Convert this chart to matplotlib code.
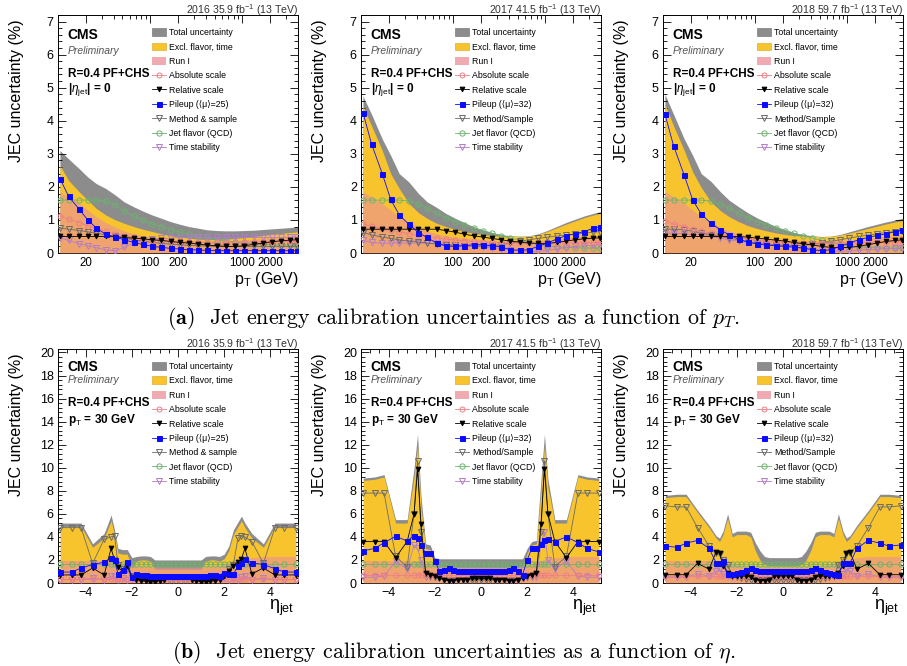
import numpy as np
import matplotlib
matplotlib.use("Agg")
import matplotlib.pyplot as plt
from matplotlib.patches import Patch
from matplotlib.lines import Line2D
from matplotlib.ticker import MultipleLocator, LogLocator, NullFormatter

plt.rcParams['font.family'] = ['Liberation Sans', 'DejaVu Sans']
plt.rcParams['mathtext.fontset'] = 'custom'
plt.rcParams['mathtext.rm'] = 'Liberation Sans'
plt.rcParams['mathtext.it'] = 'Liberation Sans:italic'
plt.rcParams['mathtext.bf'] = 'Liberation Sans:bold'

# %%
# pT dependence at |eta| = 0 (in %)
pt = [10.5, 13, 17, 21, 26, 33, 42, 52, 66, 83, 105, 132, 166, 209, 263, 331,
      417, 525, 661, 832, 1047, 1318, 1660, 2089, 2630, 3311, 3950]

runI_pt = [1.85, 1.7, 1.5, 1.3, 1.1, 0.92, 0.78, 0.67, 0.58, 0.52, 0.48, 0.45, 0.42, 0.4,
           0.38, 0.37, 0.36, 0.36, 0.37, 0.38, 0.4, 0.42, 0.45, 0.48, 0.5, 0.52, 0.54]

tot_pt_2016 = [3.1, 2.85, 2.55, 2.3, 2.1, 1.95, 1.75, 1.55, 1.4, 1.27, 1.15, 1.05, 0.95, 0.87,
               0.8, 0.75, 0.7, 0.68, 0.67, 0.67, 0.68, 0.69, 0.71, 0.73, 0.75, 0.77, 0.8]
excl_pt_2016 = [2.65, 2.2, 1.85, 1.6, 1.35, 1.15, 1.0, 0.9, 0.8, 0.72, 0.65, 0.58, 0.52, 0.48,
                0.45, 0.42, 0.41, 0.41, 0.42, 0.44, 0.47, 0.5, 0.53, 0.56, 0.59, 0.62, 0.64]
abs_pt_2016 = [1.12, 1.02, 0.92, 0.83, 0.74, 0.66, 0.58, 0.52, 0.47, 0.43, 0.4, 0.38, 0.36, 0.35,
               0.34, 0.33, 0.33, 0.33, 0.33, 0.33, 0.33, 0.33, 0.34, 0.34, 0.35, 0.35, 0.35]
rel_pt_2016 = [0.5, 0.5, 0.5, 0.5, 0.5, 0.5, 0.49, 0.47, 0.45, 0.43, 0.4, 0.38, 0.35, 0.32,
               0.3, 0.27, 0.24, 0.22, 0.2, 0.2, 0.22, 0.26, 0.3, 0.34, 0.37, 0.39, 0.4]
pu_pt_2016 = [2.25, 1.72, 1.32, 1.0, 0.76, 0.56, 0.48, 0.4, 0.32, 0.26, 0.2, 0.17, 0.14, 0.12,
              0.1, 0.09, 0.08, 0.07, 0.07, 0.07, 0.07, 0.07, 0.07, 0.07, 0.07, 0.07, 0.07]
meth_pt_2016 = [0.75, 0.72, 0.68, 0.64, 0.6, 0.55, 0.5, 0.45, 0.4, 0.36, 0.32, 0.29, 0.27, 0.25,
                0.23, 0.22, 0.21, 0.2, 0.2, 0.2, 0.2, 0.2, 0.2, 0.2, 0.2, 0.2, 0.2]
flav_pt_2016 = [1.6, 1.6, 1.6, 1.6, 1.6, 1.57, 1.45, 1.28, 1.12, 1.0, 0.88, 0.8, 0.71, 0.63,
                0.57, 0.5, 0.45, 0.4, 0.36, 0.33, 0.3, 0.28, 0.26, 0.25, 0.24, 0.23, 0.22]
time_pt_2016 = [0.46, 0.38, 0.28, 0.22, 0.16, 0.09, 0.07, 0.17, 0.3, 0.38, 0.42, 0.44, 0.45, 0.46,
                0.47, 0.47, 0.47, 0.47, 0.47, 0.47, 0.47, 0.47, 0.47, 0.47, 0.47, 0.47, 0.47]

tot_pt_2017 = [4.75, 4.2, 3.45, 2.95, 2.4, 2.15, 1.8, 1.55, 1.38, 1.2, 1.05, 0.92, 0.8, 0.7,
               0.62, 0.56, 0.52, 0.51, 0.52, 0.58, 0.68, 0.8, 0.92, 1.02, 1.12, 1.2, 1.25]
excl_pt_2017 = [4.45, 3.85, 3.1, 2.4, 1.95, 1.5, 1.22, 1.05, 0.9, 0.8, 0.72, 0.65, 0.6, 0.56,
                0.53, 0.51, 0.5, 0.5, 0.51, 0.56, 0.65, 0.76, 0.87, 0.97, 1.07, 1.15, 1.2]
abs_pt_2017 = [0.88, 0.82, 0.75, 0.7, 0.64, 0.58, 0.53, 0.49, 0.45, 0.42, 0.39, 0.37, 0.35, 0.33,
               0.32, 0.31, 0.3, 0.3, 0.3, 0.3, 0.3, 0.3, 0.31, 0.31, 0.32, 0.32, 0.33]
rel_pt_2017 = [0.72, 0.72, 0.72, 0.72, 0.72, 0.72, 0.72, 0.72, 0.72, 0.68, 0.63, 0.57, 0.52, 0.48,
               0.44, 0.4, 0.36, 0.33, 0.3, 0.29, 0.29, 0.32, 0.36, 0.4, 0.43, 0.45, 0.46]
pu_pt_2017 = [4.25, 3.3, 2.4, 1.62, 1.15, 0.87, 0.62, 0.47, 0.3, 0.21, 0.2, 0.22, 0.25, 0.25,
              0.22, 0.18, 0.1, 0.08, 0.1, 0.2, 0.3, 0.42, 0.52, 0.58, 0.65, 0.75, 0.8]
meth_pt_2017 = [0.62, 0.55, 0.48, 0.44, 0.4, 0.36, 0.33, 0.3, 0.27, 0.25, 0.23, 0.22, 0.21, 0.21,
                0.22, 0.25, 0.3, 0.35, 0.4, 0.44, 0.48, 0.51, 0.54, 0.57, 0.6, 0.63, 0.65]
flav_pt_2017 = [1.6, 1.6, 1.6, 1.6, 1.6, 1.57, 1.47, 1.35, 1.2, 1.07, 0.95, 0.85, 0.76, 0.68,
                0.6, 0.52, 0.45, 0.38, 0.32, 0.26, 0.22, 0.19, 0.17, 0.16, 0.15, 0.15, 0.15]
time_pt_2017 = [0.38, 0.32, 0.3, 0.3, 0.3, 0.3, 0.3, 0.3, 0.29, 0.27, 0.25, 0.22, 0.2, 0.18,
                0.16, 0.13, 0.1, 0.07, 0.05, 0.05, 0.08, 0.12, 0.16, 0.2, 0.22, 0.24, 0.25]

tot_pt_2018 = [4.8, 4.2, 3.45, 2.95, 2.4, 2.17, 1.85, 1.6, 1.4, 1.22, 1.06, 0.93, 0.81, 0.71,
               0.62, 0.56, 0.52, 0.5, 0.51, 0.56, 0.64, 0.72, 0.8, 0.87, 0.94, 1.0, 1.05]
excl_pt_2018 = [4.5, 3.85, 3.1, 2.45, 1.98, 1.55, 1.28, 1.1, 0.95, 0.83, 0.74, 0.67, 0.61, 0.56,
                0.53, 0.51, 0.5, 0.49, 0.5, 0.54, 0.6, 0.67, 0.74, 0.81, 0.88, 0.94, 0.98]
abs_pt_2018 = [0.98, 0.88, 0.8, 0.72, 0.66, 0.6, 0.55, 0.5, 0.46, 0.42, 0.39, 0.37, 0.35, 0.33,
               0.32, 0.31, 0.3, 0.3, 0.3, 0.3, 0.3, 0.31, 0.31, 0.32, 0.33, 0.34, 0.35]
rel_pt_2018 = [0.5, 0.5, 0.5, 0.5, 0.5, 0.5, 0.5, 0.5, 0.5, 0.48, 0.45, 0.42, 0.39, 0.36,
               0.32, 0.28, 0.24, 0.2, 0.17, 0.16, 0.17, 0.2, 0.25, 0.3, 0.35, 0.38, 0.4]
pu_pt_2018 = [4.2, 3.25, 2.35, 1.6, 1.18, 0.9, 0.7, 0.55, 0.42, 0.33, 0.27, 0.24, 0.22, 0.2,
              0.18, 0.15, 0.1, 0.07, 0.1, 0.2, 0.3, 0.4, 0.47, 0.53, 0.58, 0.65, 0.7]
meth_pt_2018 = [0.72, 0.72, 0.7, 0.66, 0.6, 0.55, 0.5, 0.45, 0.4, 0.35, 0.31, 0.28, 0.25, 0.23,
                0.22, 0.23, 0.26, 0.3, 0.35, 0.4, 0.45, 0.5, 0.54, 0.58, 0.62, 0.65, 0.67]
flav_pt_2018 = [1.6, 1.6, 1.6, 1.6, 1.6, 1.57, 1.47, 1.35, 1.2, 1.07, 0.95, 0.85, 0.76, 0.68,
                0.6, 0.52, 0.45, 0.38, 0.32, 0.26, 0.22, 0.19, 0.17, 0.16, 0.15, 0.15, 0.15]
time_pt_2018 = [0.6, 0.6, 0.58, 0.56, 0.54, 0.5, 0.45, 0.4, 0.36, 0.32, 0.28, 0.25, 0.22, 0.19,
                0.16, 0.13, 0.1, 0.08, 0.06, 0.05, 0.06, 0.08, 0.1, 0.12, 0.13, 0.14, 0.15]

# %%
# eta dependence at pT = 30 GeV
eta = [-5.1, -4.6, -4.2, -3.7, -3.2, -2.9, -2.75, -2.6, -2.4, -2.2,
       -2.0, -1.8, -1.6, -1.4, -1.2, -1.0, -0.8, -0.6, -0.4, -0.2, 0.0,
       0.2, 0.4, 0.6, 0.8, 1.0, 1.2, 1.4, 1.6, 1.8, 2.0,
       2.2, 2.4, 2.6, 2.75, 2.9, 3.2, 3.7, 4.2, 4.6, 5.1]

runI_eta = [1.95, 1.95, 1.95, 1.95, 1.95, 1.95, 1.9, 1.85, 1.75, 1.7,
            1.6, 1.5, 1.45, 1.4, 1.4, 1.4, 1.4, 1.4, 1.4, 1.4, 1.4,
            1.4, 1.4, 1.4, 1.4, 1.4, 1.4, 1.4, 1.45, 1.5, 1.6,
            1.7, 1.85, 1.95, 2.05, 2.1, 2.2, 2.3, 2.3, 2.3, 2.3]
flav_eta = [1.65, 1.65, 1.65, 1.65, 1.65, 1.65, 1.65, 1.65, 1.65, 1.65,
            1.65, 1.65, 1.65, 1.65, 1.65, 1.65, 1.65, 1.65, 1.65, 1.65, 1.65,
            1.65, 1.65, 1.65, 1.65, 1.65, 1.65, 1.65, 1.65, 1.65, 1.65,
            1.65, 1.65, 1.65, 1.65, 1.65, 1.65, 1.65, 1.65, 1.65, 1.65]

tot_eta_2016 = [5.2, 5.2, 5.2, 3.4, 4.3, 5.9, 4.6, 3.0, 2.9, 2.9,
                2.2, 2.3, 2.35, 2.35, 2.3, 2.0, 2.0, 2.0, 2.0, 2.0, 2.0,
                2.0, 2.0, 2.0, 2.0, 2.0, 2.3, 2.35, 2.35, 2.3, 2.5,
                3.2, 4.6, 5.3, 5.8, 5.2, 4.3, 3.4, 5.2, 5.2, 5.2]
excl_eta_2016 = [4.9, 4.9, 4.9, 3.1, 3.9, 5.4, 4.2, 2.6, 2.5, 2.5,
                 1.3, 1.9, 2.0, 2.0, 1.9, 1.2, 1.2, 1.2, 1.2, 1.2, 1.2,
                 1.2, 1.2, 1.2, 1.2, 1.2, 1.9, 2.0, 2.0, 1.9, 2.1,
                 2.8, 4.2, 4.9, 5.4, 4.8, 3.9, 3.1, 4.9, 4.9, 4.9]
abs_eta_2016 = [0.35, 0.35, 0.35, 0.35, 0.35, 0.35, 0.35, 0.35, 0.35, 0.35,
                0.35, 0.35, 0.35, 0.35, 0.35, 0.35, 0.35, 0.35, 0.35, 0.35, 0.35,
                0.35, 0.35, 0.35, 0.35, 0.35, 0.35, 0.35, 0.35, 0.35, 0.35,
                0.35, 0.35, 0.35, 0.35, 0.35, 0.35, 0.35, 0.35, 0.35, 0.35]
rel_eta_2016 = [0.7, 0.7, 0.7, 1.3, 0.7, 3.0, 2.0, 1.4, 1.0, 1.5,
                0.5, 0.3, 0.2, 0.15, 0.1, 0.1, 0.2, 0.3, 0.5, 0.5, 0.5,
                0.5, 0.5, 0.3, 0.2, 0.1, 0.1, 0.15, 0.2, 0.3, 0.6,
                1.0, 1.5, 1.8, 2.1, 3.0, 0.8, 1.3, 0.7, 0.7, 0.7]
pu_eta_2016 = [0.95, 0.95, 1.3, 1.6, 1.8, 2.2, 2.0, 0.8, 1.15, 1.8,
               0.55, 0.75, 0.7, 0.68, 0.65, 0.65, 0.65, 0.65, 0.65, 0.65, 0.65,
               0.65, 0.65, 0.65, 0.65, 0.65, 0.65, 0.68, 0.7, 0.6, 0.85,
               0.8, 0.75, 1.5, 1.7, 2.1, 1.75, 1.6, 1.25, 0.95, 0.95]
meth_eta_2016 = [4.8, 4.8, 4.8, 1.7, 3.8, 4.0, 4.1, 1.6, 1.2, 1.2,
                 0.6, 0.5, 0.5, 0.4, 0.3, 0.3, 0.3, 0.3, 0.3, 0.3, 0.3,
                 0.3, 0.3, 0.3, 0.3, 0.3, 0.3, 0.4, 0.5, 0.5, 0.6,
                 1.2, 1.6, 3.9, 4.1, 4.0, 3.6, 1.7, 4.8, 4.8, 4.8]
time_eta_2016 = [0.3, 0.3, 0.3, 0.4, 0.3, 0.6, 0.5, 0.3, 0.4, 0.3,
                 0.4, 0.45, 0.5, 0.5, 0.5, 0.5, 0.5, 0.5, 0.5, 0.5, 0.5,
                 0.5, 0.5, 0.5, 0.5, 0.5, 0.5, 0.5, 0.5, 0.45, 0.4,
                 0.3, 0.4, 0.3, 0.5, 0.6, 0.3, 0.4, 0.3, 0.3, 0.3]

tot_eta_2017 = [9.1, 9.2, 9.4, 5.5, 5.5, 10.0, 12.9, 7.5, 3.4, 3.3,
                2.2, 2.1, 2.1, 2.1, 2.1, 2.1, 2.1, 2.1, 2.1, 2.1, 2.1,
                2.1, 2.1, 2.1, 2.1, 2.1, 2.1, 2.1, 2.1, 2.1, 3.0,
                3.6, 3.7, 9.0, 12.9, 9.0, 5.5, 5.5, 9.4, 9.2, 9.1]
excl_eta_2017 = [8.9, 9.0, 9.2, 5.2, 5.2, 9.2, 11.9, 6.5, 3.0, 2.9,
                 1.5, 1.3, 1.3, 1.3, 1.3, 1.3, 1.3, 1.3, 1.3, 1.3, 1.3,
                 1.3, 1.3, 1.3, 1.3, 1.3, 1.3, 1.3, 1.3, 1.3, 2.6,
                 3.3, 3.4, 8.0, 11.9, 8.3, 5.2, 5.2, 9.2, 9.0, 8.9]
abs_eta_2017 = [0.7, 0.7, 0.7, 0.7, 0.7, 0.7, 0.7, 0.7, 0.7, 0.7,
                0.7, 0.7, 0.7, 0.7, 0.7, 0.7, 0.7, 0.7, 0.7, 0.7, 0.7,
                0.7, 0.7, 0.7, 0.7, 0.7, 0.7, 0.7, 0.7, 0.7, 0.7,
                0.7, 0.7, 0.7, 0.7, 0.7, 0.7, 0.7, 0.7, 0.7, 0.7]
rel_eta_2017 = [3.6, 3.6, 3.6, 2.2, 3.6, 6.0, 9.9, 5.1, 0.9, 0.7,
                0.6, 0.4, 0.3, 0.2, 0.2, 0.3, 0.3, 0.3, 0.4, 0.4, 0.4,
                0.4, 0.4, 0.3, 0.3, 0.3, 0.2, 0.2, 0.3, 0.4, 0.6,
                0.7, 0.9, 5.1, 9.9, 6.0, 3.6, 2.2, 3.6, 3.6, 3.6]
pu_eta_2017 = [2.8, 3.0, 3.5, 4.05, 3.65, 4.1, 3.9, 3.3, 2.6, 2.6,
               1.95, 1.0, 1.1, 1.3, 1.1, 1.0, 1.0, 1.0, 1.0, 1.0, 1.0,
               1.0, 1.0, 1.0, 1.0, 1.0, 1.1, 1.3, 1.0, 0.7, 2.0,
               3.0, 3.0, 3.4, 3.7, 3.8, 3.6, 4.0, 3.5, 3.0, 2.7]
meth_eta_2017 = [7.8, 7.8, 7.8, 2.3, 1.4, 6.0, 10.6, 4.4, 0.8, 0.6,
                 0.5, 0.4, 0.3, 0.3, 0.3, 0.3, 0.3, 0.3, 0.3, 0.3, 0.3,
                 0.3, 0.3, 0.3, 0.3, 0.3, 0.3, 0.3, 0.3, 0.4, 0.5,
                 0.6, 0.8, 4.4, 10.6, 6.0, 1.4, 2.3, 7.8, 7.8, 7.8]
time_eta_2017 = [0.5, 0.5, 0.6, 1.9, 1.2, 3.3, 3.0, 2.0, 0.5, 0.5,
                 0.5, 0.5, 0.4, 0.3, 0.2, 0.3, 0.4, 0.5, 0.5, 0.5, 0.5,
                 0.5, 0.5, 0.5, 0.4, 0.3, 0.2, 0.2, 0.3, 0.4, 0.5,
                 0.5, 0.5, 3.4, 4.4, 2.0, 1.2, 1.9, 0.6, 0.5, 0.5]

tot_eta_2018 = [7.6, 7.7, 7.7, 6.3, 5.0, 4.1, 3.9, 4.5, 6.0, 4.3,
                4.5, 4.5, 4.5, 4.4, 3.5, 2.8, 2.3, 2.2, 2.2, 2.2, 2.2,
                2.2, 2.2, 2.2, 2.3, 2.8, 3.5, 4.4, 4.5, 4.5, 4.5,
                4.3, 6.0, 4.5, 3.9, 4.1, 5.0, 6.3, 7.7, 7.7, 7.6]
excl_eta_2018 = [7.4, 7.5, 7.5, 6.1, 4.8, 3.9, 3.6, 4.2, 5.6, 4.0,
                 4.2, 4.2, 4.2, 4.0, 2.8, 2.0, 1.6, 1.5, 1.5, 1.5, 1.5,
                 1.5, 1.5, 1.5, 1.6, 2.0, 2.8, 4.0, 4.2, 4.2, 4.2,
                 4.0, 5.6, 4.2, 3.6, 3.9, 4.8, 6.1, 7.5, 7.5, 7.4]
abs_eta_2018 = [0.65, 0.65, 0.65, 0.65, 0.65, 0.65, 0.65, 0.65, 0.65, 0.65,
                0.65, 0.65, 0.65, 0.65, 0.65, 0.65, 0.65, 0.65, 0.65, 0.65, 0.65,
                0.65, 0.65, 0.65, 0.65, 0.65, 0.65, 0.65, 0.65, 0.65, 0.65,
                0.65, 0.65, 0.65, 0.65, 0.65, 0.65, 0.65, 0.65, 0.65, 0.65]
rel_eta_2018 = [0.72, 0.72, 0.72, 1.7, 1.2, 2.7, 2.6, 1.5, 0.9, 0.6,
                0.6, 0.6, 0.6, 0.5, 0.3, 0.2, 0.2, 0.3, 0.6, 0.6, 0.6,
                0.6, 0.6, 0.3, 0.2, 0.2, 0.3, 0.5, 0.6, 0.6, 0.6,
                0.6, 0.9, 1.5, 2.6, 2.7, 1.2, 1.7, 0.72, 0.72, 0.72]
pu_eta_2018 = [3.2, 3.1, 3.45, 3.7, 3.0, 1.75, 1.75, 1.95, 0.75, 0.8,
               0.9, 0.95, 1.1, 1.3, 1.15, 1.05, 1.05, 1.05, 1.05, 1.05, 1.05,
               1.05, 1.05, 1.05, 1.05, 1.05, 1.15, 1.3, 1.1, 0.95, 0.85,
               0.75, 0.7, 1.75, 1.7, 1.7, 3.0, 3.7, 3.45, 3.2, 3.3]
meth_eta_2018 = [6.7, 6.6, 6.6, 4.8, 3.2, 2.6, 2.5, 2.0, 1.6, 0.6,
                 0.5, 0.4, 0.35, 0.3, 0.3, 0.3, 0.3, 0.3, 0.3, 0.3, 0.3,
                 0.3, 0.3, 0.3, 0.3, 0.3, 0.3, 0.3, 0.35, 0.4, 0.5,
                 0.6, 1.6, 2.0, 2.5, 2.6, 3.2, 4.8, 6.6, 6.6, 6.7]
time_eta_2018 = [0.5, 0.5, 0.5, 0.8, 0.6, 1.0, 1.2, 0.8, 0.6, 0.5,
                 0.6, 0.8, 0.7, 0.6, 0.6, 0.5, 0.5, 0.5, 0.5, 0.5, 0.5,
                 0.5, 0.5, 0.5, 0.5, 0.5, 0.6, 0.6, 0.7, 0.8, 0.6,
                 0.5, 0.6, 0.8, 1.2, 1.0, 0.6, 0.8, 0.5, 0.5, 0.5]

years = ['2016 35.9 fb$^{-1}$ (13 TeV)', '2017 41.5 fb$^{-1}$ (13 TeV)', '2018 59.7 fb$^{-1}$ (13 TeV)']
pu_mu = [25, 32, 32]
meth_names = ['Method & sample', 'Method/Sample', 'Method/Sample']

# %%
# Styles
c_tot = '#8c8c8c'
c_excl = '#f7c42e'
c_run1 = '#ec8f98'
styles = {
    'abs':  ('#ee7f86', 'o', False, 3.6),
    'rel':  ('black', 'v', True, 3.4),
    'pu':   ('#0a0aff', 's', True, 3.6),
    'meth': ('#6a6a6a', 'v', False, 3.8),
    'flav': ('#6db36d', 'o', False, 3.8),
    'time': ('#b27ccb', 'v', False, 3.8),
}


def line_kw(key):
    col, mk, filled, ms = styles[key]
    return dict(color=col, lw=0.6, marker=mk, ms=ms, mew=0.7,
                mfc=col if filled else 'none', mec=col)


def draw_panel(ax, x, tot, excl, run1, curves, k):
    ax.fill_between(x, 0, tot, color=c_tot, lw=0, zorder=1)
    ax.fill_between(x, 0, excl, color=c_excl, lw=0, zorder=2)
    ax.fill_between(x, 0, run1, color=c_run1, alpha=0.6, lw=0, zorder=3)
    for key in ['flav', 'time', 'meth', 'abs', 'rel', 'pu']:
        ax.plot(x, curves[key], zorder=4, **line_kw(key))

    handles = [Patch(fc=c_tot, ec='#6a6a6a', lw=0.4),
               Patch(fc=c_excl, ec='#d9a21b', lw=0.4),
               Patch(fc=c_run1, alpha=0.75, lw=0)]
    handles += [Line2D([], [], **line_kw(key)) for key in ['abs', 'rel', 'pu', 'meth', 'flav', 'time']]
    labels = ['Total uncertainty', 'Excl. flavor, time', 'Run I', 'Absolute scale',
              'Relative scale', 'Pileup (\u27e8\u03bc\u27e9=%d)' % pu_mu[k],
              meth_names[k], 'Jet flavor (QCD)', 'Time stability']
    ax.legend(handles, labels, loc='upper left', bbox_to_anchor=(0.39, 0.945),
              frameon=False, fontsize=6.3, handlelength=1.6, handleheight=1.0,
              handletextpad=0.4, labelspacing=0.62, borderpad=0, borderaxespad=0)

    ax.text(1.0, 1.004, years[k], transform=ax.transAxes, ha='right', va='baseline',
            fontsize=7.6, color='#333333')
    ax.set_ylabel('JEC uncertainty (%)', fontsize=11.5, loc='top')
    ax.yaxis.set_label_coords(-0.14, 0.98)
    ax.tick_params(which='both', direction='in', top=True, right=True,
                   labelsize=9, width=0.6, pad=3)
    ax.tick_params(which='major', length=6)
    ax.tick_params(which='minor', length=3)
    for sp in ax.spines.values():
        sp.set_linewidth(0.7)


fig = plt.figure(figsize=(9.07, 6.66), dpi=100)
W, H = 907, 666
lefts = [58, 361, 663]

pt_sets = [
    (tot_pt_2016, excl_pt_2016, dict(abs=abs_pt_2016, rel=rel_pt_2016, pu=pu_pt_2016,
                                     meth=meth_pt_2016, flav=flav_pt_2016, time=time_pt_2016)),
    (tot_pt_2017, excl_pt_2017, dict(abs=abs_pt_2017, rel=rel_pt_2017, pu=pu_pt_2017,
                                     meth=meth_pt_2017, flav=flav_pt_2017, time=time_pt_2017)),
    (tot_pt_2018, excl_pt_2018, dict(abs=abs_pt_2018, rel=rel_pt_2018, pu=pu_pt_2018,
                                     meth=meth_pt_2018, flav=flav_pt_2018, time=time_pt_2018)),
]
eta_sets = [
    (tot_eta_2016, excl_eta_2016, dict(abs=abs_eta_2016, rel=rel_eta_2016, pu=pu_eta_2016,
                                       meth=meth_eta_2016, flav=flav_eta, time=time_eta_2016)),
    (tot_eta_2017, excl_eta_2017, dict(abs=abs_eta_2017, rel=rel_eta_2017, pu=pu_eta_2017,
                                       meth=meth_eta_2017, flav=flav_eta, time=time_eta_2017)),
    (tot_eta_2018, excl_eta_2018, dict(abs=abs_eta_2018, rel=rel_eta_2018, pu=pu_eta_2018,
                                       meth=meth_eta_2018, flav=flav_eta, time=time_eta_2018)),
]

# %%
# Top row: vs pT
for k, (tot, excl, curves) in enumerate(pt_sets):
    ax = fig.add_axes([lefts[k] / W, 1 - 253 / H, 240 / W, 238 / H])
    ax.set_xscale('log')
    draw_panel(ax, pt, tot, excl, runI_pt, curves, k)
    ax.set_xlim(10, 4000)
    ax.set_ylim(0, 7.2)
    ax.set_xticks([20, 100, 200, 1000, 2000])
    ax.set_xticklabels(['20', '100', '200', '1000', '2000'])
    ax.tick_params(axis='x', which='major', labelsize=8.3)
    ax.xaxis.set_minor_locator(LogLocator(base=10, subs=(2, 3, 4, 5, 6, 7, 8, 9)))
    ax.xaxis.set_minor_formatter(NullFormatter())
    ax.yaxis.set_major_locator(MultipleLocator(1))
    ax.yaxis.set_minor_locator(MultipleLocator(0.2))
    ax.set_xlabel(r'p$_{\rm T}$ (GeV)', fontsize=11.5, loc='right')
    ax.xaxis.set_label_coords(1.0, -0.07)
    ax.text(0.04, 0.916, 'CMS', transform=ax.transAxes, weight='bold', fontsize=10, va='center')
    ax.text(0.04, 0.849, 'Preliminary', transform=ax.transAxes, style='italic',
            fontsize=7.5, color='#555555', va='center')
    ax.text(0.04, 0.752, 'R=0.4 PF+CHS', transform=ax.transAxes, weight='bold', fontsize=8.5, va='center')
    ax.text(0.04, 0.689, r'|$\eta_{\rm jet}$| = 0', transform=ax.transAxes, weight='bold',
            fontsize=8.5, va='center')

# Bottom row: vs eta
for k, (tot, excl, curves) in enumerate(eta_sets):
    ax = fig.add_axes([lefts[k] / W, 1 - 583 / H, 240 / W, 234 / H])
    draw_panel(ax, eta, tot, excl, runI_eta, curves, k)
    ax.set_xlim(-5.2, 5.2)
    ax.set_ylim(0, 20.3)
    ax.xaxis.set_major_locator(MultipleLocator(2))
    ax.xaxis.set_minor_locator(MultipleLocator(0.4))
    ax.yaxis.set_major_locator(MultipleLocator(2))
    ax.yaxis.set_minor_locator(MultipleLocator(0.4))
    ax.set_xlabel(r'$\mathrm{\eta}_{\rm jet}$', fontsize=13, loc='right')
    ax.xaxis.set_label_coords(0.985, -0.065)
    ax.text(0.04, 0.924, 'CMS', transform=ax.transAxes, weight='bold', fontsize=10, va='center')
    ax.text(0.04, 0.868, 'Preliminary', transform=ax.transAxes, style='italic',
            fontsize=7.5, color='#555555', va='center')
    ax.text(0.04, 0.768, 'R=0.4 PF+CHS', transform=ax.transAxes, weight='bold', fontsize=8.5, va='center')
    ax.text(0.04, 0.697, r'p$_{\rm T}$ = 30 GeV', transform=ax.transAxes, weight='bold',
            fontsize=8.5, va='center')

# Captions
fig.text(0.5, 1 - 318 / H, r'$\mathbf{(a)}$  Jet energy calibration uncertainties as a function of $p_T$.',
         ha='center', va='center', fontsize=15.8, fontfamily='cmr10', math_fontfamily='cm')
fig.text(0.5, 1 - 652 / H, r'$\mathbf{(b)}$  Jet energy calibration uncertainties as a function of $\eta$.',
         ha='center', va='center', fontsize=15.8, fontfamily='cmr10', math_fontfamily='cm')

fig.savefig('out.png', dpi=100)
